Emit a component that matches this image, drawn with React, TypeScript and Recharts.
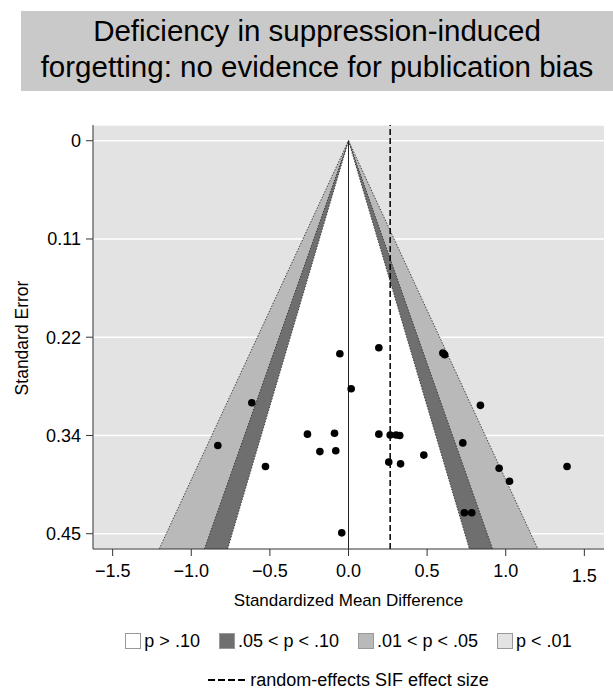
import React from 'react';
import {
  ComposedChart,
  Scatter,
  XAxis,
  YAxis,
  CartesianGrid,
  ReferenceArea,
  ReferenceLine,
} from 'recharts';

// Study effect sizes (standardized mean difference) and their standard errors
const smd = [
  -0.055, 0.017, -0.615, -0.831, -0.261, -0.089, -0.182, -0.081, -0.528, -0.043,
  0.193, 0.6, 0.612, 0.839, 0.193, 0.265, 0.303, 0.326, 0.256, 0.331,
  0.479, 0.727, 0.958, 1.024, 1.39, 0.737, 0.784,
];
const se = [
  0.244, 0.284, 0.3, 0.349, 0.336, 0.335, 0.356, 0.355, 0.373, 0.449,
  0.237, 0.243, 0.245, 0.303, 0.336, 0.337, 0.337, 0.3375, 0.368, 0.37,
  0.36, 0.346, 0.375, 0.39, 0.373, 0.426, 0.426,
];

const xTicks = [-1.5, -1, -0.5, 0, 0.5, 1, 1.5];
const xTickLabels = ['\u22121.5', '\u22121.0', '\u22120.5', '0.0', '0.5', '1.0', '1.5'];
const yTicks = [0, 0.1125, 0.225, 0.3375, 0.45];
const yTickLabels = ['0', '0.11', '0.22', '0.34', '0.45'];

const pooledEffect = 0.265;
const seMax = 0.4675;
// contour z values: p = .01, .05, .10 (two-sided)
const contourZ = [2.576, 1.96, 1.645];
const contourFills = ['#b9b9b9', '#6f6f6f', '#ffffff'];

const legendLabels = ['p > .10', '.05 < p < .10', '.01 < p < .05', 'p < .01'];
const legendFills = ['#ffffff', '#6f6f6f', '#b9b9b9', '#e3e3e3'];

const FONT = '"Liberation Sans", Arial, Helvetica, sans-serif';

function funnelShape(fill: string) {
  return (props: any) => {
    const { x, y, width, height } = props;
    const apexX = x + width / 2;
    const bottom = y + height;
    return (
      <g>
        <polygon
          points={`${apexX},${y} ${x},${bottom} ${x + width},${bottom}`}
          fill={fill}
          stroke="none"
        />
        <polyline
          points={`${x},${bottom} ${apexX},${y} ${x + width},${bottom}`}
          fill="none"
          stroke="#222"
          strokeWidth={0.8}
          strokeDasharray="1.5 1.5"
        />
      </g>
    );
  };
}

function XTick(props: any) {
  const { x, y, payload } = props;
  const i = xTicks.indexOf(payload.value);
  // the last label sits a little lower in the original
  const extra = i === xTicks.length - 1 ? 11 : 6;
  return (
    <text x={x} y={y + extra} dy="0.71em" textAnchor="middle" fontSize={18} fill="#000" fontFamily={FONT}>
      {xTickLabels[i]}
    </text>
  );
}

function YTick(props: any) {
  const { x, y, payload } = props;
  const i = yTicks.indexOf(payload.value);
  return (
    <text x={x - 3} y={y} dy="0.35em" textAnchor="end" fontSize={18} fill="#000" fontFamily={FONT}>
      {yTickLabels[i]}
    </text>
  );
}

export default function App() {
  const points = smd.map((v, i) => ({ x: v, y: se[i] }));

  return (
    <div
      style={{
        position: 'absolute',
        left: 0,
        top: 0,
        width: 613,
        height: 689,
        background: '#fff',
        fontFamily: FONT,
        color: '#000',
      }}
    >
      <div
        style={{
          position: 'absolute',
          left: 21,
          top: 11,
          width: 592,
          height: 80,
          boxSizing: 'border-box',
          paddingTop: 2,
          background: '#c9c9c9',
          textAlign: 'center',
          fontSize: 29.5,
          lineHeight: '36px',
          whiteSpace: 'nowrap',
        }}
      >
        Deficiency in suppression-induced
        <br />
        forgetting: no evidence for publication bias
      </div>

      <div style={{ position: 'absolute', left: 0, top: 0 }}>
        <ComposedChart
          width={613}
          height={689}
          margin={{ top: 125, right: 9, bottom: 110, left: 33 }}
        >
          <CartesianGrid
            horizontal
            vertical={false}
            stroke="#ffffff"
            strokeWidth={1.5}
            fill="#e3e3e3"
            fillOpacity={1}
          />
          <XAxis
            type="number"
            dataKey="x"
            domain={[-1.625, 1.625]}
            ticks={xTicks}
            allowDataOverflow
            height={30}
            tickSize={7}
            tick={<XTick />}
            axisLine={{ stroke: '#333' }}
            tickLine={{ stroke: '#333' }}
          />
          <YAxis
            type="number"
            dataKey="y"
            reversed
            domain={[-0.018, seMax]}
            ticks={yTicks}
            allowDataOverflow
            width={60}
            tickSize={7}
            tick={<YTick />}
            axisLine={{ stroke: '#333' }}
            tickLine={{ stroke: '#333' }}
          />
          {contourZ.map((z, i) => (
            <ReferenceArea
              key={z}
              x1={-z * seMax}
              x2={z * seMax}
              y1={0}
              y2={seMax}
              ifOverflow="visible"
              shape={funnelShape(contourFills[i])}
            />
          ))}
          <ReferenceLine
            segment={[
              { x: 0, y: 0 },
              { x: 0, y: seMax },
            ]}
            stroke="#222"
            strokeWidth={1}
          />
          <ReferenceLine
            x={pooledEffect}
            stroke="#000"
            strokeWidth={1.5}
            strokeDasharray="6 3"
          />
          <Scatter
            data={points}
            isAnimationActive={false}
            shape={(p: any) => <circle cx={p.cx} cy={p.cy} r={3.8} fill="#000" />}
          />
        </ComposedChart>
      </div>

      <div
        style={{
          position: 'absolute',
          left: 22,
          top: 338,
          fontSize: 17.5,
          whiteSpace: 'nowrap',
          transform: 'translate(-50%, -50%) rotate(-90deg)',
        }}
      >
        Standard Error
      </div>

      <div
        style={{
          position: 'absolute',
          left: 93,
          width: 511,
          top: 591,
          fontSize: 17,
          textAlign: 'center',
        }}
      >
        Standardized Mean Difference
      </div>

      <div
        style={{
          position: 'absolute',
          left: 93,
          width: 511,
          top: 630,
          display: 'flex',
          justifyContent: 'center',
          alignItems: 'center',
          fontSize: 18,
          lineHeight: '22px',
        }}
      >
        {legendLabels.map((label, i) => (
          <div key={label} style={{ display: 'flex', alignItems: 'center', marginRight: i < 3 ? 19 : 0 }}>
            <span
              style={{
                display: 'inline-block',
                width: 14,
                height: 14,
                background: legendFills[i],
                border: '1px solid #999',
                marginRight: 3,
              }}
            />
            <span>{label}</span>
          </div>
        ))}
      </div>

      <div
        style={{
          position: 'absolute',
          left: 93,
          width: 511,
          top: 669,
          display: 'flex',
          justifyContent: 'center',
          alignItems: 'center',
          fontSize: 18,
          lineHeight: '22px',
        }}
      >
        <svg width={38} height={6} style={{ marginRight: 4 }}>
          <line x1={0} y1={3} x2={38} y2={3} stroke="#000" strokeWidth={2.2} strokeDasharray="7 3" />
        </svg>
        <span>random-effects SIF effect size</span>
      </div>
    </div>
  );
}
